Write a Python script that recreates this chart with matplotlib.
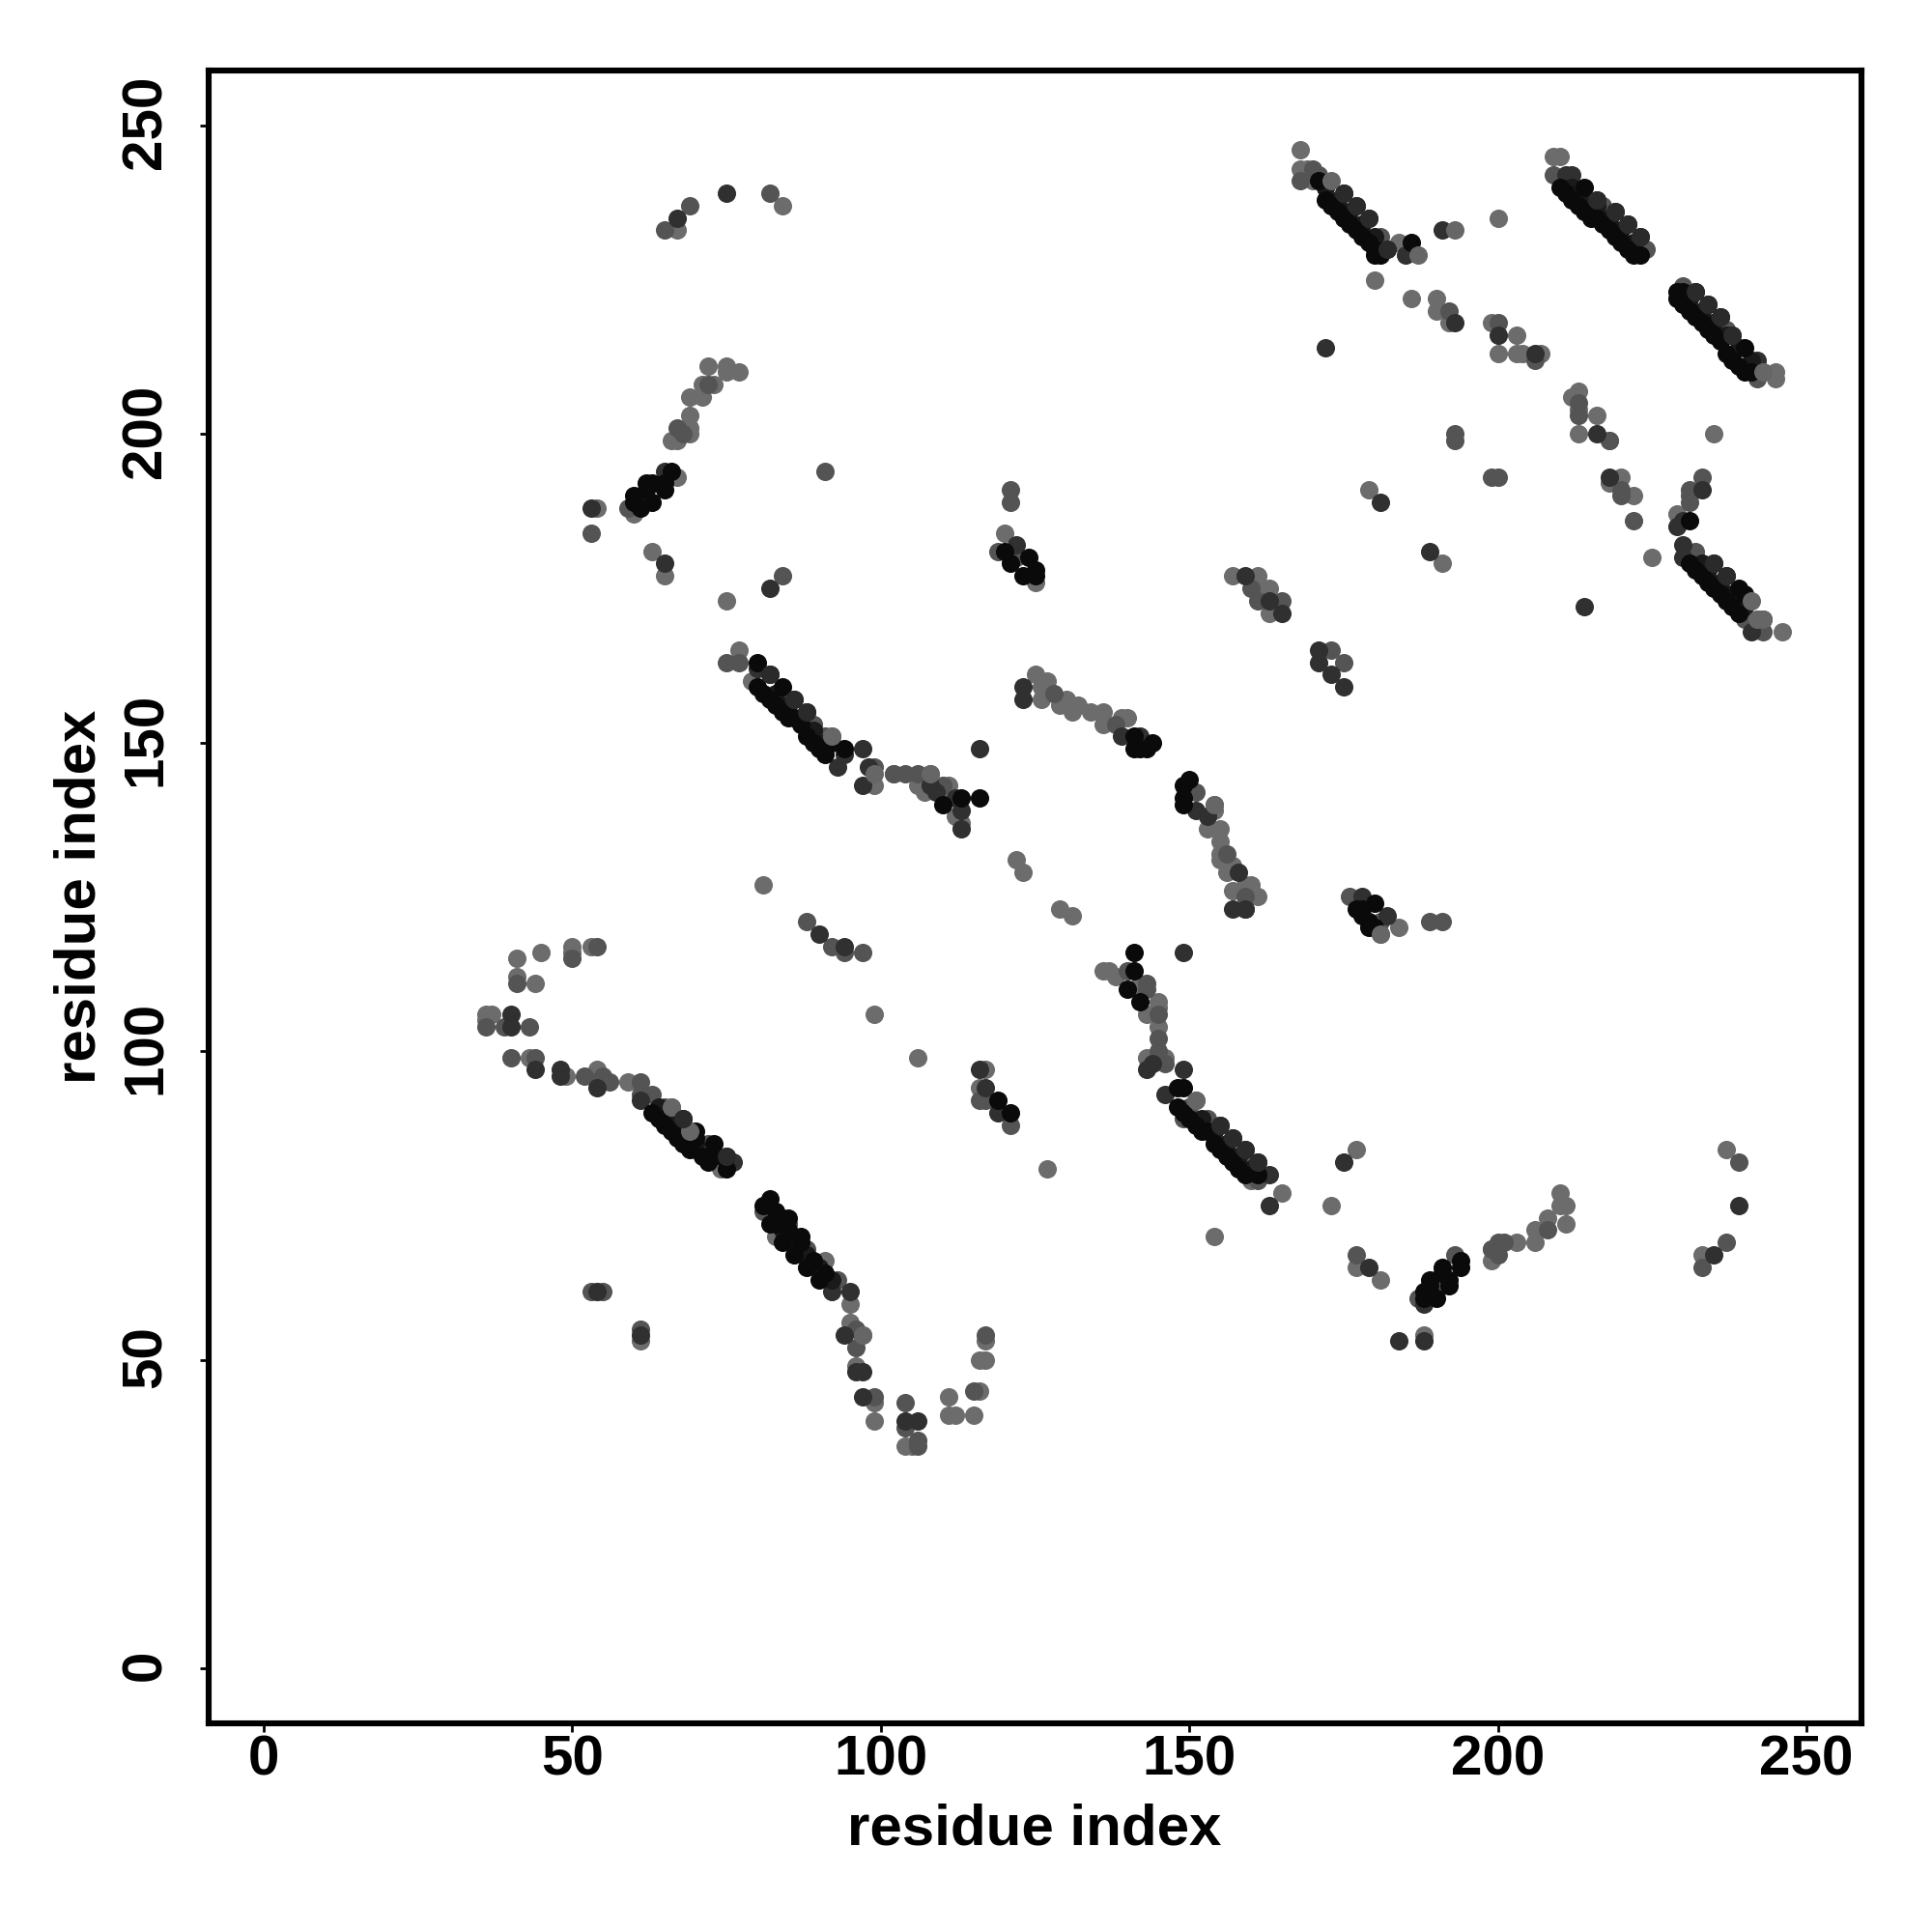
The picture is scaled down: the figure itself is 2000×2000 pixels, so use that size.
import matplotlib
matplotlib.use("Agg")
import matplotlib.pyplot as plt
from matplotlib.transforms import ScaledTranslation

plt.rcParams['font.family'] = ['Liberation Sans', 'DejaVu Sans']
plt.rcParams['font.weight'] = 'bold'

# contacts (x, y), one list per grey level
light = [(168,246),(168,243),(169,243),(170,241),(184,231),(180,225),(186,222),(190,222),(190,220),
         (192,218),(199,218),(203,216),(200,213),(203,213),(204,213),(207,213),(200,235),(209,245),
         (210,245),(212,240),(212,206),(213,207),(213,204),(213,200),(216,203),(218,199),(235,200),
         (220,193),(218,192),(222,190),(179,191),(191,179),(225,180),(229,187),(245,209),(245,210),
         (243,210),(246,168),(242,170),(242,169),(157,177),(161,177),(162,175),(163,175),(163,171),
         (77,165),(79,160),(85,157),(92,151),(89,153),(81,127),(122,131),(123,129),(129,123),(131,122),
         (125,161),(126,157),(127,160),(126,159),(130,157),(129,156),(132,156),(131,155),(134,155),
         (136,155),(136,153),(139,154),(140,154),(99,143),(102,145),(106,143),(108,145),(107,142),
         (111,143),(111,141),(112,138),(113,137),(154,140),(154,139),(153,136),(155,136),(155,134),
         (155,132),(155,131),(157,130),(156,129),(157,126),(159,127),(160,127),(161,125),
         (136,113),(137,113),(138,112),(142,111),(142,110),(143,106),(145,108),(145,107),(145,104),
         (143,99),(146,99),(151,92),(160,82),(160,79),(165,77),(173,75),(177,84),(177,65),(181,63),
         (154,70),(188,54),(199,66),(199,68),(203,69),(206,71),(206,69),(208,73),(210,77),(210,75),
         (211,75),(211,72),(237,84),(233,67),(127,81),(184,120),(181,119),(50,117),(50,116),(53,117),
         (45,116),(41,115),(41,112),(44,111),(36,106),(37,106),(36,105),(43,99),(49,96),(54,97),
         (59,95),(66,91),(69,87),(74,81),(70,84),(83,70),(91,66),(95,59),(95,56),(97,54),(96,49),
         (99,43),(99,40),(104,36),(105,36),(111,44),(111,41),(112,41),(115,41),(116,45),(116,50),
         (117,50),(117,53),(99,106),(106,99),(117,97),(116,94),(72,211),(75,211),(75,210),(77,210),
         (71,208),(73,208),(69,206),(71,206),(69,203),(69,201),(69,200),(66,199),(67,199),(54,188),
         (60,187),(63,181),(65,177),(75,173),(67,193),(67,233),(120,184),(125,176),(84,237),(61,53)]

mid = [(168,241),(170,243),(171,242),(177,237),(181,232),(224,230),(209,242),(217,237),(192,220),
       (200,218),(206,212),(213,205),(213,203),(218,199),(193,200),(193,199),(199,193),(200,193),
       (220,191),(220,190),(222,186),(233,193),(231,191),(231,190),(231,189),(215,236),(237,217),
       (240,170),(243,168),(242,209),(230,224),(232,181),(165,173),(160,175),(161,173),(173,165),
       (175,163),(75,163),(77,163),(89,153),(91,151),(99,146),(102,145),(104,145),(110,143),(106,145),
       (138,153),(128,158),(151,142),(159,125),(159,123),(156,132),(140,113),(143,110),(143,111),
       (145,106),(145,102),(145,100),(145,99),(146,98),(150,91),(153,89),(161,79),(177,67),(193,67),
       (199,68),(200,69),(201,69),(200,67),(208,71),(191,62),(187,60),(233,65),(239,82),(237,69),
       (50,115),(54,117),(41,111),(36,104),(39,104),(43,104),(40,99),(44,99),(52,96),(55,96),(54,95),
       (56,95),(61,95),(61,93),(63,93),(65,91),(72,85),(81,74),(85,72),(88,68),(93,63),(96,55),(96,52),
       (99,44),(104,43),(104,39),(106,36),(106,37),(115,45),(117,54),(53,61),(55,61),(61,55),(116,92),
       (117,92),(121,88),(69,237),(65,233),(72,208),(67,201),(68,200),(59,188),(53,184),(84,177),
       (82,239),(91,194),(121,191),(121,189),(122,180),(119,181),(88,121),(92,117),(94,116),(97,116),
       (189,121),(191,121),(176,125),(181,121),(149,89)]

dark = [(172,240),(175,239),(179,235),(182,230),(185,229),(191,233),(193,218),(206,213),(200,216),
        (172,214),(211,242),(212,242),(216,238),(219,236),(221,234),(223,232),(232,223),(234,221),
        (236,219),(238,216),(242,212),(218,193),(216,200),(233,191),(181,189),(189,181),(214,172),
        (230,186),(229,185),(230,182),(230,180),(235,179),(237,177),(241,168),(243,170),(159,177),
        (163,173),(165,171),(171,165),(173,161),(175,159),(171,163),(67,235),(75,239),(82,175),(65,194),
        (61,189),(53,188),(65,179),(80,162),(82,161),(86,157),(88,155),(93,146),(94,148),(97,149),
        (97,143),(116,149),(98,146),(108,143),(109,142),(112,141),(113,139),(113,136),(123,159),(123,157),
        (139,151),(142,151),(151,139),(153,138),(158,129),(157,123),(159,123),(122,182),(90,119),(94,117),
        (149,116),(144,98),(143,97),(149,97),(146,93),(155,88),(157,86),(159,84),(161,82),(163,80),
        (163,75),(175,82),(179,65),(235,67),(239,75),(184,53),(188,53),(188,59),(40,106),(40,104),
        (48,97),(48,96),(44,97),(54,94),(61,92),(61,54),(67,89),(68,89),(75,83),(76,82),(54,61),(92,61),
        (95,61),(94,54),(97,48),(96,48),(97,44),(104,40),(106,40),(116,97),(117,94),(119,90),(178,125),(182,122)]

# inner diagonals of the thick bands, under the black ones
inner = [(172,240),(174,238),(176,236),(178,234),(180,232),(212,240),(214,238),(216,237),(218,235),
         (220,233),(222,231),(231,222),(233,220),(235,218),(237,216),(239,214),(241,212),(233,179),
         (234,178),(236,176),(238,174),(240,172),(83,158),(85,156),(87,154),(89,152),(91,150),
         (152,89),(154,87),(156,85),(158,83),(160,81),(64,91),(66,89),(68,87),(70,85),(72,83),
         (84,71),(86,69),(88,67),(90,65),(92,63)]

black = [(171,241),(172,238),(173,237),(174,236),(175,235),(176,234),(177,233),(178,232),(179,231),
         (180,230),(180,229),(181,229),(186,231),(210,240),(211,239),(212,238),(213,237),(214,240),
         (214,236),(215,235),(216,235),(217,234),(218,233),(219,232),(220,231),(221,230),(222,229),
         (223,229),(229,223),(230,223),(229,222),(230,221),(231,220),(232,219),(233,218),(234,217),
         (235,216),(236,215),(237,213),(238,212),(239,211),(240,214),(240,210),(241,210),(231,186),
         (232,178),(233,177),(234,176),(235,175),(236,174),(237,173),(238,172),(239,175),(240,174),
         (239,171),(231,179),(66,194),(65,192),(62,192),(63,192),(65,191),(62,191),(63,189),(60,190),
         (60,189),(61,188),(120,181),(121,179),(124,180),(125,178),(123,177),(125,177),
         (80,163),(81,158),(80,159),(82,157),(83,156),(84,159),(84,155),(85,154),(86,154),(87,153),
         (88,151),(89,150),(90,149),(91,148),(92,150),(94,149),(141,151),(144,150),(141,149),(142,149),
         (143,149),(113,141),(116,141),(110,140),(150,144),(149,143),(149,141),(149,140),
         (141,116),(141,113),(140,110),(142,108),(149,94),(148,94),(148,91),(150,89),(153,87),(154,85),
         (156,83),(158,81),(152,87),(151,88),(155,84),(157,82),(159,80),(161,80),(149,90),
         (189,63),(191,65),(191,64),(192,63),(189,62),(192,62),(194,66),(194,65),(188,61),(190,60),(188,60),
         (70,87),(70,86),(73,85),(73,83),(63,90),(65,88),(67,86),(69,84),(72,82),(75,81),(64,89),(66,87),
         (68,85),(71,83),(82,76),(81,75),(82,72),(84,73),(85,73),(84,69),(87,70),(86,67),(88,65),(90,63),
         (83,74),(85,71),(87,69),(89,66),(91,64),(83,72),
         (177,123),(178,122),(179,121),(180,124),(179,120),(180,120),(121,90),(119,92),(178,123)]

# dots that sit on top of the black ones
over = [(173,241),(187,229),(193,233),(243,210),(241,173),(151,92),(108,145),(92,151),(99,145),
        (154,140),(181,119),(66,91),(69,87),(97,54),(243,170),(242,170)]
over_dark = [(175,239),(177,237),(179,235),(182,230),(216,238),(219,236),(221,234),(223,232),
             (232,223),(234,221),(236,219),(238,216),(235,179),(237,177),(82,161),(86,157),(88,155),
             (68,89),(75,83),(155,88),(157,86),(159,84),(161,82)]

greys = [(light, '#6c6c6c'), (mid, '#545454'), (dark, '#303030'), (inner, '#1a1a1a'), (black, '#0a0a0a'),
         (over, '#666666'), (over_dark, '#2a2a2a')]
ticks = [0, 50, 100, 150, 200, 250]

fig = plt.figure(figsize=(10, 10), dpi=200)
ax = fig.add_axes([216/2000, 216/2000, 1711/2000, 1711/2000])

for pts, col in greys:
    xs, ys = zip(*pts)
    ax.scatter(xs, ys, s=47, c=col, linewidths=0, zorder=2)

ax.set_xlim(-8.92, 258.9)
ax.set_ylim(-8.92, 258.9)
ax.set_xticks(ticks)
ax.set_yticks(ticks)
ax.tick_params(axis='x', length=3.3, width=1, labelsize=21, pad=1)
ax.tick_params(axis='y', length=3.3, width=1, labelsize=21, pad=10.2)
nudge = ScaledTranslation(0, 1.2/72, fig.dpi_scale_trans)
for lab in ax.get_yticklabels():
    lab.set_rotation(90)
    lab.set_va('center')
    lab.set_transform(lab.get_transform() + nudge)
for s in ax.spines.values():
    s.set_linewidth(2.2)

ax.set_xlabel('residue index', fontsize=21.6, fontweight='bold')
ax.set_ylabel('residue index', fontsize=21.6, fontweight='bold')
ax.xaxis.set_label_coords(0.4995, -0.0485)
ax.yaxis.set_label_coords(-0.0615, 0.5)

fig.savefig('out.png', facecolor='white')
